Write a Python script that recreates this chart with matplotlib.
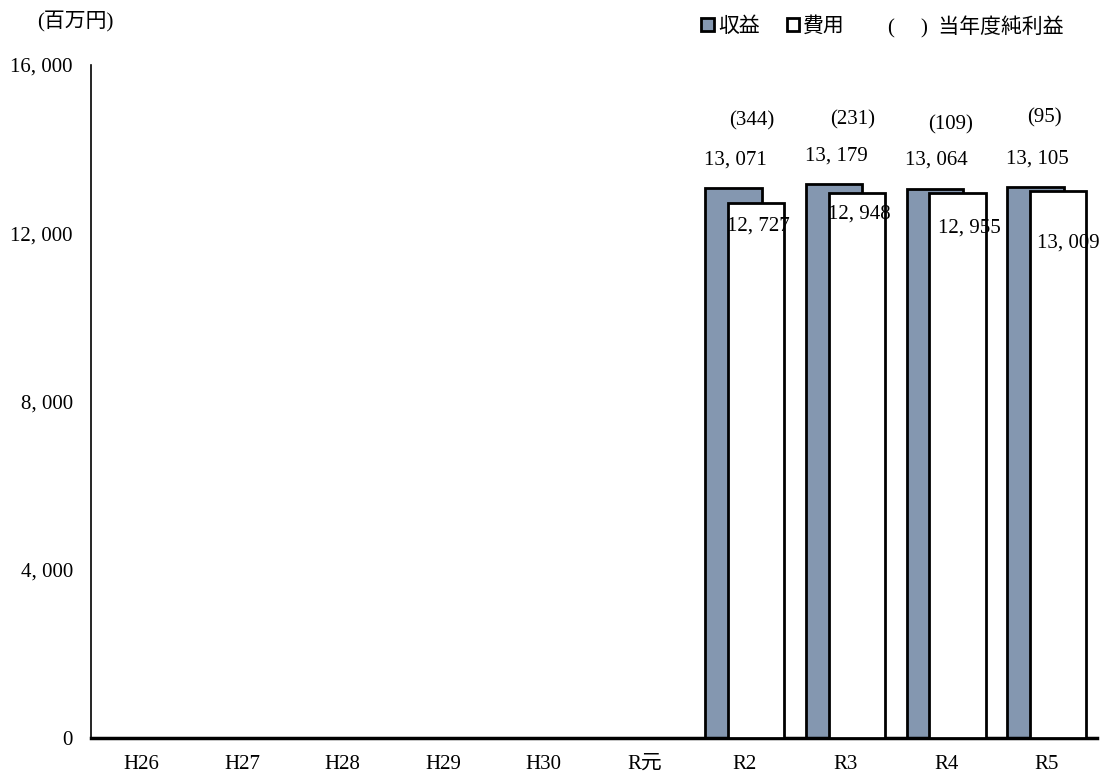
import numpy as np
import matplotlib.pyplot as plt
from matplotlib.patches import Patch

plt.rcParams['font.family'] = ['Liberation Serif', 'Noto Sans CJK JP']

years = ['H26', 'H27', 'H28', 'H29', 'H30', 'R元', 'R2', 'R3', 'R4', 'R5']
revenue = [None, None, None, None, None, None, 13071, 13179, 13064, 13105]
expense = [None, None, None, None, None, None, 12727, 12948, 12955, 13009]
net_profit = [None, None, None, None, None, None, 344, 231, 109, 95]

rev_color = '#8497B0'
width = 0.56
shift = 0.113
fs = 15

# hand-placed label offsets (pixels), as in the original sheet
exp_dx = [2, 2, 12, 10]
exp_dy = [-23, -21, -35, -52]
net_dx = [7, 7, 4, -2]
net_dy = [67, 64, 64, 69]

def fmt(v):
    return f'{v:,}'.replace(',', ', ')

fig = plt.figure(figsize=(11.06, 7.72), dpi=100)
ax = fig.add_axes([0.0823, 0.044, 0.9096, 0.8718])

idx = [i for i, v in enumerate(revenue) if v is not None]
rev = [revenue[i] for i in idx]
exp = [expense[i] for i in idx]
net = [net_profit[i] for i in idx]
x = np.array(idx, dtype=float)

ax.bar(x - shift, rev, width, color=rev_color, edgecolor='black', linewidth=2, zorder=2)
ax.bar(x + shift, exp, width, color='white', edgecolor='black', linewidth=2, zorder=3)

for k in range(len(idx)):
    ax.annotate(fmt(rev[k]), (x[k] - shift, rev[k]), xytext=(2, 28),
                textcoords='offset pixels', ha='center', va='center', fontsize=fs, zorder=5)
    ax.annotate(fmt(exp[k]), (x[k] + shift, exp[k]), xytext=(exp_dx[k], exp_dy[k]),
                textcoords='offset pixels', ha='center', va='center', fontsize=fs, zorder=5,
                annotation_clip=False)
    ax.annotate(f'({net[k]})', (x[k], rev[k]), xytext=(net_dx[k], net_dy[k]),
                textcoords='offset pixels', ha='center', va='center', fontsize=fs, zorder=5)

ax.set_xlim(-0.5, len(years) - 0.5)
ax.set_ylim(0, 16000)
ax.set_xticks(range(len(years)))
ax.set_xticklabels(years)
ax.set_yticks([0, 4000, 8000, 12000, 16000])
ax.set_yticklabels([fmt(v) for v in [0, 4000, 8000, 12000, 16000]])
ax.tick_params(axis='both', length=0, labelsize=fs)
ax.tick_params(axis='x', pad=12)
ax.tick_params(axis='y', pad=13)
ax.spines['top'].set_visible(False)
ax.spines['right'].set_visible(False)
ax.spines['bottom'].set_linewidth(2.5)
ax.spines['left'].set_linewidth(1.2)

fig.text(0.034, 0.971, '(百万円)', fontsize=fs, va='center', ha='left')

handles = [Patch(facecolor=rev_color, edgecolor='black', linewidth=2, label='収益'),
           Patch(facecolor='white', edgecolor='black', linewidth=2, label='費用')]
fig.legend(handles=handles, loc='center left', bbox_to_anchor=(0.617, 0.965), ncol=2,
           frameon=False, fontsize=fs, handlelength=0.6, handleheight=0.6,
           handletextpad=0.2, columnspacing=1.3)
fig.text(0.803, 0.965, '(　 )  当年度純利益', fontsize=fs, va='center', ha='left')

fig.savefig('out.png', dpi=100)
